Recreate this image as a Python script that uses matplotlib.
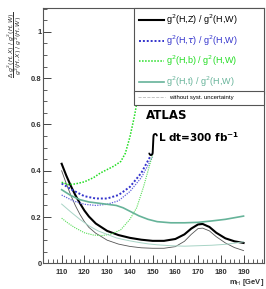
import numpy as np
import matplotlib
matplotlib.use('Agg')
import matplotlib.pyplot as plt
from matplotlib.lines import Line2D
from matplotlib.ticker import MultipleLocator, FormatStrFormatter

plt.rcParams['font.family'] = 'Liberation Sans'

# ---------------- data ----------------
# H,Z
mz = [110, 112, 114, 116, 118, 120, 122, 125, 130, 135, 140, 145, 150, 155, 160, 164, 167, 170, 172, 175, 178, 182, 186, 190]
z_sys = [0.43, 0.38, 0.335, 0.295, 0.26, 0.228, 0.202, 0.172, 0.14, 0.122, 0.11, 0.102, 0.097, 0.097, 0.105, 0.125, 0.15, 0.168, 0.17, 0.157, 0.132, 0.108, 0.095, 0.088]
z_nosys = [0.40, 0.345, 0.295, 0.25, 0.212, 0.18, 0.155, 0.13, 0.1, 0.083, 0.073, 0.067, 0.065, 0.065, 0.072, 0.095, 0.125, 0.15, 0.152, 0.14, 0.115, 0.088, 0.068, 0.055]
# H,tau
mtau = [110, 115, 120, 125, 130, 135, 140, 145, 150]
tau_sys = [0.345, 0.315, 0.29, 0.28, 0.28, 0.295, 0.33, 0.39, 0.48]
tau_nosys = [0.295, 0.27, 0.255, 0.25, 0.255, 0.27, 0.31, 0.37, 0.46]
# H,b
mb_sys = [110, 113, 116, 120, 124, 127, 130, 133, 136, 138, 140, 142, 143, 144, 146]
b_sys = [0.35, 0.34, 0.343, 0.352, 0.37, 0.39, 0.405, 0.42, 0.44, 0.475, 0.545, 0.635, 0.69, 0.75, 0.86]
mb_nosys = [110, 113, 116, 120, 124, 128, 132, 136, 140, 143, 146, 148, 150]
b_nosys = [0.195, 0.172, 0.153, 0.132, 0.122, 0.12, 0.127, 0.145, 0.19, 0.24, 0.33, 0.40, 0.47]
# H,t
mt = [110, 114, 118, 122, 126, 130, 134, 137, 140, 144, 148, 152, 158, 164, 170, 176, 182, 186, 190]
t_sys = [0.318, 0.293, 0.275, 0.265, 0.26, 0.255, 0.25, 0.24, 0.225, 0.205, 0.19, 0.18, 0.175, 0.175, 0.177, 0.183, 0.19, 0.197, 0.204]
t_nosys = [0.256, 0.222, 0.19, 0.162, 0.14, 0.125, 0.11, 0.103, 0.097, 0.09, 0.084, 0.08, 0.076, 0.074, 0.076, 0.078, 0.082, 0.087, 0.093]

c_z, c_tau, c_b, c_t = '#000000', '#3333cc', '#22dd22', '#66b399'
dot = (0, (1, 1))

fig = plt.figure(figsize=(2.66, 2.89), dpi=100)
ax = fig.add_axes([0.1617, 0.0889, 0.8308, 0.8834])

ax.plot(mz, z_sys, color=c_z, lw=1.5)
ax.plot(mz, z_nosys, color='#555555', lw=0.6)
ax.plot(mtau, tau_sys, color=c_tau, lw=1.4, ls=dot)
ax.plot(mtau, tau_nosys, color='#6060dd', lw=0.9, ls=dot)
ax.plot(mb_sys, b_sys, color=c_b, lw=1.1, ls=dot)
ax.plot(mb_nosys, b_nosys, color='#55dd55', lw=0.8, ls=dot)
ax.plot(mt, t_sys, color=c_t, lw=1.2)
ax.plot(mt, t_nosys, color='#a8d4c6', lw=0.7)

ax.set_xlim(101.8, 199)
ax.set_ylim(0, 1.103)
ax.xaxis.set_major_locator(MultipleLocator(10))
ax.xaxis.set_minor_locator(MultipleLocator(2))
ax.yaxis.set_major_locator(MultipleLocator(0.2))
ax.yaxis.set_minor_locator(MultipleLocator(0.05))
ax.yaxis.set_major_formatter(FormatStrFormatter('%g'))
ax.set_xticks(np.arange(110, 191, 10))
ax.tick_params(which='both', direction='in', top=False, right=False, color='#444444')
ax.tick_params(which='major', length=6, width=0.7)
ax.tick_params(which='minor', length=3, width=0.6)
ax.tick_params(axis='x', pad=4)
ax.tick_params(axis='y', pad=1)
for lab in ax.get_xticklabels() + ax.get_yticklabels():
    lab.set_fontsize(5.5)
    lab.set_fontweight('bold')
    lab.set_color('#333333')
for s in ax.spines.values():
    s.set_color('#555555')
    s.set_linewidth(0.8)

# legend, two stacked boxes
h1 = [Line2D([], [], color=c_z, lw=1.5),
      Line2D([], [], color=c_tau, lw=1.4, ls=dot),
      Line2D([], [], color=c_b, lw=1.1, ls=dot),
      Line2D([], [], color=c_t, lw=1.2)]
l1 = [r'g$^2$(H,Z) / g$^2$(H,W)', r'g$^2$(H,$\tau$) / g$^2$(H,W)',
      r'g$^2$(H,b) / g$^2$(H,W)', r'g$^2$(H,t) / g$^2$(H,W)']
lg1 = ax.legend(h1, l1, loc='upper left', bbox_to_anchor=(0.41, 1.0, 0.59, 0), mode='expand',
                fontsize=6.5, labelcolor=[c_z, c_tau, c_b, c_t], fancybox=False,
                edgecolor='#555555', framealpha=1, borderaxespad=0, borderpad=0.55,
                labelspacing=0.68, handlelength=2.8, handletextpad=0.2)
lg1.get_frame().set_linewidth(0.8)
lg1.set_zorder(5)
ax.add_artist(lg1)
lg2 = ax.legend([Line2D([], [], color='#bbbbbb', lw=0.6, ls='--')], ['without syst. uncertainty'],
                loc='upper left', bbox_to_anchor=(0.41, 0.675, 0.59, 0), mode='expand',
                fontsize=4.3, fancybox=False, edgecolor='#555555', framealpha=1,
                borderaxespad=0, borderpad=0.7, handlelength=4.5, handletextpad=0.8)
lg2.get_frame().set_linewidth(0.8)

ax.text(0.468, 0.565, 'ATLAS', transform=ax.transAxes, fontsize=8.5, fontweight='bold',
        family='DejaVu Sans')
ax.text(0.468, 0.44, r'$\int$', transform=ax.transAxes, fontsize=12)
ax.text(0.52, 0.475, r'L dt=300 fb$^{\mathbf{-1}}$', transform=ax.transAxes,
        fontsize=7.5, fontweight='bold', family='DejaVu Sans')

ax.text(1.0, -0.053, r'm$_\mathrm{H}$ [GeV]', transform=ax.transAxes, ha='right', va='top',
        fontsize=5.5, fontweight='bold', color='#333333')
fig.text(0.058, 0.845, r'$\dfrac{\Delta\ g^2(H,X)\ /\ g^2(H,W)}{g^2(H,X)\ /\ g^2(H,W)}$',
         rotation=90, ha='center', va='center', fontsize=4.6, color='#333333')

fig.savefig('out.png', dpi=100)
